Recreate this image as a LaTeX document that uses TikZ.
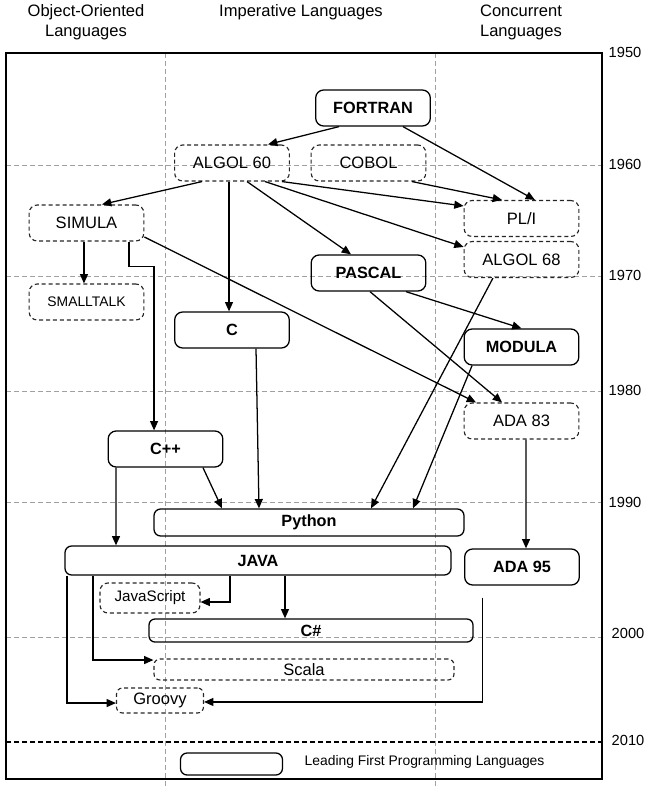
\documentclass[tikz,border=0pt]{standalone}
\usepackage{fontspec}
\setmainfont{Liberation Sans}
\usetikzlibrary{arrows.meta}
\definecolor{gridGray}{HTML}{A0A0A0}

\begin{document}
\begin{tikzpicture}[
  x=0.75pt, y=-0.75pt,
  font=\fontsize{12.4}{15}\selectfont,
  lead/.style={draw, line width=0.95pt, rounded corners=6pt, inner sep=0pt,
    font=\fontsize{12.2}{15}\selectfont\bfseries, minimum width=86pt, minimum height=27pt},
  other/.style={draw=black!85, line width=0.85pt, dash pattern=on 3pt off 2.2pt,
    rounded corners=6pt, inner sep=0pt, minimum width=86pt, minimum height=27pt},
  gridline/.style={gridGray, line width=0.6pt, dash pattern=on 3.5pt off 2.5pt},
  arr/.style={-{Triangle[length=7pt,width=6pt]}, line width=0.95pt},
  year/.style={anchor=west, font=\fontsize{11}{13}\selectfont},
]
\useasboundingbox (0,0) rectangle (646,786);
% time grid and frame
\foreach \yy in {165,276,391,502,637}
  \draw[gridline] (6,\yy) -- (602,\yy);
\foreach \xx in {165,435}
  \draw[gridline] (\xx,53) -- (\xx,786);
\draw[line width=0.95pt, dash pattern=on 3.5pt off 2.5pt] (6,742) -- (602,742);
\draw[line width=0.95pt] (6,53) rectangle (602,779);

\node[align=center] (hoo) at (86,22) {Object-Oriented\\Languages};
\node (himp) at (301,12) {Imperative Languages};
\node[align=center] (hcon) at (521,22) {Concurrent\\Languages};

\node[year] (y50) at (604,52) {1950};
\node[year] (y60) at (604,164) {1960};
\node[year] (y70) at (604,275) {1970};
\node[year] (y80) at (604,390) {1980};
\node[year] (y90) at (604,502) {1990};
\node[year] (y00) at (607,633) {2000};
\node[year] (y10) at (607,740) {2010};

% languages
\node[lead] (fortran) at (373,108) {FORTRAN};
\node[other] (algolsixty) at (232,163) {ALGOL 60};
\node[other] (cobol) at (368.5,163) {COBOL};
\node[other] (simula) at (86.5,223) {SIMULA};
\node[other] (pli) at (521.5,218.5) {PL/I};
\node[other, font=\fontsize{10.4}{12}\selectfont] (smalltalk) at (86.5,302) {SMALLTALK};
\node[lead] (pascal) at (368.5,273) {PASCAL};
\node[other] (algolsixtyeight) at (521.5,259.5) {ALGOL 68};
\node[lead] (c) at (232,330) {C};
\node[lead] (modula) at (521.5,347) {MODULA};
\node[other] (adaeightythree) at (521.5,421) {ADA 83};
\node[lead] (cpp) at (165.5,449) {C++};
\node[lead, minimum width=232.5pt, minimum height=20.25pt, rounded corners=5pt] (python) at (309,522.5) {Python};
\node[lead, minimum width=289.5pt, minimum height=21.75pt, rounded corners=5pt] (java) at (258,560.5) {JAVA};
\node[lead] (adaninetyfive) at (522,567) {ADA 95};
\node[other, minimum width=75pt, minimum height=22.5pt, font=\fontsize{11.4}{13}\selectfont] (javascript) at (150,598) {JavaScript};
\node[lead, minimum width=243pt, minimum height=17.25pt, rounded corners=4.5pt] (csharp) at (311,630.5) {C\#};
\node[other, minimum width=225pt, minimum height=15.75pt, rounded corners=4.5pt] (scala) at (304,669.5) {Scala};
\node[other, minimum width=65.25pt, minimum height=18.75pt, rounded corners=4.5pt] (groovy) at (160,700.5) {Groovy};

\node[lead, minimum width=76.5pt, minimum height=16.5pt, rounded corners=5pt] (key) at (231.5,764) {};
\node[anchor=west, font=\fontsize{10.4}{12}\selectfont] (keytext) at (300,762) {Leading First Programming Languages};

% influences
\draw[arr] ([xshift=-25.5pt]fortran.south) -- ([xshift=27pt]algolsixty.north);
\draw[arr] ([xshift=22.5pt]fortran.south) -- ([xshift=10.1pt]pli.north);
\draw[arr] ([xshift=-22.5pt]algolsixty.south) -- ([xshift=11.6pt]simula.north);
\draw[arr] ([xshift=-2.25pt]algolsixty.south) -- ([xshift=-2.25pt]c.north);
\draw[arr] ([xshift=11.25pt]algolsixty.south) -- ([xshift=-13.1pt]pascal.north);
\draw[arr] ([xshift=24.75pt]algolsixty.south) -- ([yshift=9.4pt]algolsixtyeight.west);
\draw[arr] ([xshift=37.5pt]algolsixty.south) -- ([yshift=9.4pt]pli.west);
\draw[arr] ([xshift=32.6pt]cobol.south) -- ([xshift=-14.6pt]pli.north);
\draw[arr] ([xshift=-1.9pt]simula.south) -- ([xshift=-1.9pt]smalltalk.north);
\draw[arr] ([xshift=31.9pt]simula.south) -- ++(0,25) -| ([xshift=-8.6pt]cpp.north);
\draw[arr] ([yshift=-10.5pt]simula.east) -- ([xshift=-34.1pt]adaeightythree.north);
\draw[arr] ([xshift=1.1pt]pascal.south) -- ([xshift=-14.6pt]adaeightythree.north);
\draw[arr] ([xshift=28.1pt]pascal.south) -- (modula.north);
\draw[arr] ([xshift=-21.4pt]algolsixtyeight.south) -- ([xshift=46.5pt]python.north);
\draw[arr] ([xshift=-37.1pt]modula.south) -- ([xshift=78pt]python.north);
\draw[arr] ([xshift=18pt]c.south) -- ([xshift=-37.5pt]python.north);
\draw[arr] ([xshift=28.1pt]cpp.south) -- ([xshift=-65.25pt]python.north);
\draw[arr] ([xshift=-37.1pt]cpp.south) -- ([xshift=-106.5pt]java.north);
\draw[arr] ([xshift=3.4pt]adaeightythree.south) -- ([xshift=3pt]adaninetyfive.north);
\draw[arr] ([xshift=-21pt]java.south) |- ([yshift=-3pt]javascript.east);
\draw[arr] ([xshift=20.25pt]java.south) -- ([xshift=-19.5pt]csharp.north);
\draw[arr] ([xshift=-123.75pt]java.south) |- ([yshift=7.1pt]scala.west);
\draw[arr] ([xshift=-143.25pt]java.south) |- ([yshift=-1.9pt]groovy.west);
\draw[arr] ([xshift=-29.6pt,yshift=-9pt]adaninetyfive.south) |- ([yshift=-1.1pt]groovy.east);
\end{tikzpicture}
\end{document}
